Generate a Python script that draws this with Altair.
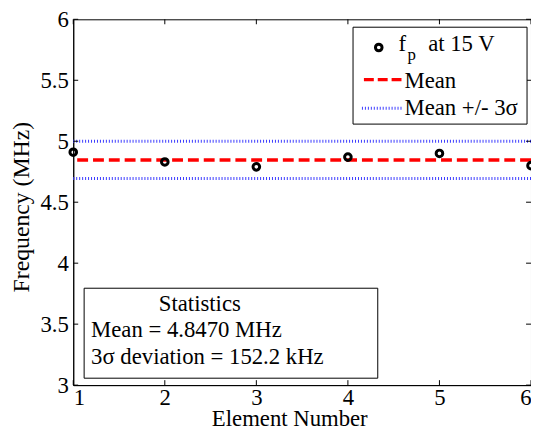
import altair as alt
import pandas as pd

# ---- data ----
elements = [1, 2, 3, 4, 5, 6]
freq_mhz = [4.91, 4.83, 4.79, 4.87, 4.90, 4.80]
mean_mhz = 4.8470
three_sigma_mhz = 0.1522
y_ticks = [3, 3.5, 4, 4.5, 5, 5.5, 6]
x_ticks = [1, 2, 3, 4, 5, 6]

W, H = 463, 370
FONT = "Liberation Serif"
FS = 23

pts = pd.DataFrame({"x": elements, "y": freq_mhz})
lines = pd.DataFrame({
    "y": [mean_mhz, mean_mhz + three_sigma_mhz, mean_mhz - three_sigma_mhz],
    "kind": ["mean", "upper", "lower"],
})
yt = pd.DataFrame({"y": y_ticks})
xt = pd.DataFrame({"x": x_ticks})

xs = alt.Scale(domain=[1, 6], nice=False, zero=False)
ys = alt.Scale(domain=[3, 6], nice=False, zero=False)

base_axes = alt.Chart(pts).mark_point(opacity=0).encode(
    x=alt.X("x:Q", scale=xs, title=None,
            axis=alt.Axis(values=x_ticks, format="d", tickSize=0, grid=False,
                          labelPadding=2)),
    y=alt.Y("y:Q", scale=ys, title=None,
            axis=alt.Axis(values=y_ticks, tickSize=0, grid=False, labelPadding=5,
                          labelExpr="datum.value % 1 == 0 ? format(datum.value, 'd') : format(datum.value, '.1f')")),
)

BLUE = "#3b3bff"
RED = "#ff0000"

ytick_l = alt.Chart(yt).mark_rule(color="black", strokeWidth=1).encode(
    y=alt.Y("y:Q", scale=ys), x=alt.value(0), x2=alt.value(5))
ytick_r = alt.Chart(yt).mark_rule(color="black", strokeWidth=1).encode(
    y=alt.Y("y:Q", scale=ys), x=alt.value(W - 5), x2=alt.value(W))
xtick_b = alt.Chart(xt).mark_rule(color="black", strokeWidth=1).encode(
    x=alt.X("x:Q", scale=xs), y=alt.value(H - 5), y2=alt.value(H))
xtick_t = alt.Chart(xt).mark_rule(color="black", strokeWidth=1).encode(
    x=alt.X("x:Q", scale=xs), y=alt.value(0), y2=alt.value(5))

mean_line = alt.Chart(lines[lines.kind == "mean"]).mark_rule(
    color=RED, strokeWidth=3.5, strokeDash=[11, 5]).encode(
    y=alt.Y("y:Q", scale=ys))
sig_lines = alt.Chart(lines[lines.kind != "mean"]).mark_rule(
    color=BLUE, strokeWidth=3, strokeDash=[1, 2]).encode(
    y=alt.Y("y:Q", scale=ys))

points = alt.Chart(pts).mark_point(
    shape="circle", filled=False, color="black", opacity=1, strokeWidth=3,
    size=45, clip=False).encode(
    x=alt.X("x:Q", scale=xs), y=alt.Y("y:Q", scale=ys))

one = pd.DataFrame({"a": [0]})


def txt(s, x, y, size=FS, align="left", baseline="alphabetic", angle=0):
    return alt.Chart(one).mark_text(text=s, font=FONT, fontSize=size, color="black",
                                    align=align, baseline=baseline, angle=angle).encode(
        x=alt.value(x), y=alt.value(y))


# axis titles
x_title = txt("Element Number", 219, 411, size=23, align="center")
y_title = txt("Frequency (MHz)", -52, 190, size=24, align="center", baseline="middle", angle=270)

# legend box
leg_box = alt.Chart(one).mark_rect(fill="white", stroke="black", strokeWidth=1).encode(
    x=alt.value(283), x2=alt.value(459), y=alt.value(8), y2=alt.value(106))
leg_pt = alt.Chart(one).mark_point(shape="circle", filled=False, color="black", opacity=1,
                                   strokeWidth=3, size=45).encode(
    x=alt.value(309), y=alt.value(28.5))
leg_mean = alt.Chart(one).mark_rule(color=RED, strokeWidth=3.5, strokeDash=[10, 4]).encode(
    x=alt.value(294), x2=alt.value(333), y=alt.value(61))
leg_sig = alt.Chart(one).mark_rule(color=BLUE, strokeWidth=3, strokeDash=[1, 2]).encode(
    x=alt.value(292), x2=alt.value(333), y=alt.value(90))
leg_f = txt("f", 329, 32.5)
leg_p = txt("p", 338, 41, size=17)
leg_t1 = txt("at 15 V", 359, 32.5)
leg_t2 = txt("Mean", 335, 69.5)
leg_t3 = txt("Mean +/- 3σ", 335, 97)

# statistics box
st_box = alt.Chart(one).mark_rect(fill="white", stroke="black", strokeWidth=1).encode(
    x=alt.value(11), x2=alt.value(308), y=alt.value(272), y2=alt.value(363))
st_t0 = txt("Statistics", 128, 295, align="center")
st_t1 = txt("Mean = 4.8470 MHz", 18, 321)
st_t2 = txt("3σ deviation = 152.2 kHz", 18, 349)

chart = alt.layer(
    base_axes, sig_lines, mean_line, points,
    ytick_l, ytick_r, xtick_b, xtick_t, x_title, y_title,
    leg_box, leg_pt, leg_mean, leg_sig, leg_f, leg_p, leg_t1, leg_t2, leg_t3,
    st_box, st_t0, st_t1, st_t2,
).properties(
    width=W, height=H,
    autosize=alt.AutoSizeParams(type="none"),
    padding={"left": 66, "top": 9, "right": 0, "bottom": 46},
    background="white",
).configure_view(
    stroke="black", strokeWidth=1
).configure_axis(
    labelFont=FONT, labelFontSize=FS, labelColor="black",
    domainColor="black", domainWidth=1,
)

chart.save("out.html", embed_options={"renderer": "svg", "actions": False})
